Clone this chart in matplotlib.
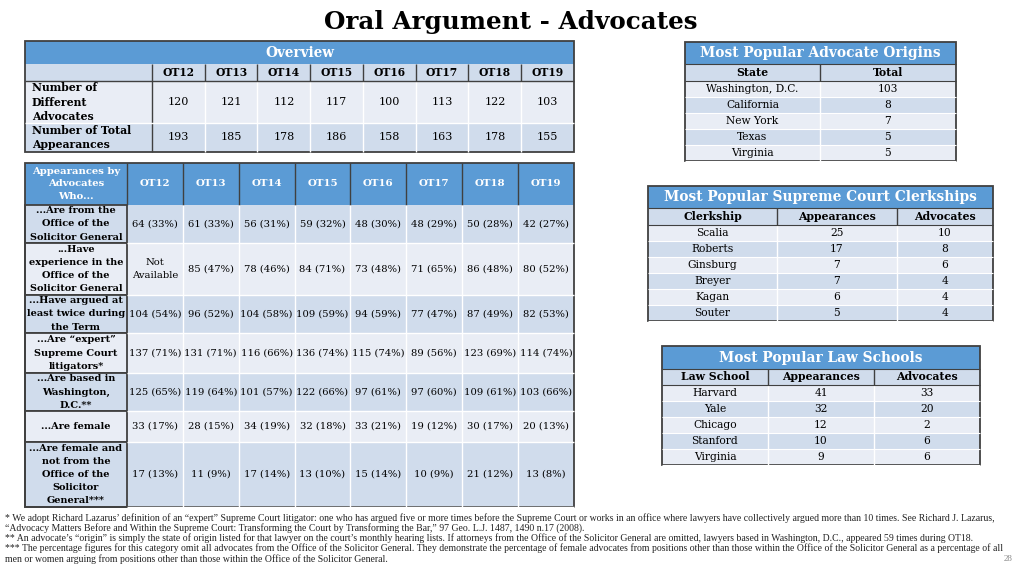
import matplotlib.pyplot as plt
from matplotlib.patches import Rectangle

# ---- data ----
terms = ["OT12", "OT13", "OT14", "OT15", "OT16", "OT17", "OT18", "OT19"]

overview_labels = ["Number of\nDifferent\nAdvocates", "Number of Total\nAppearances"]
different_advocates = [120, 121, 112, 117, 100, 113, 122, 103]
total_appearances = [193, 185, 178, 186, 158, 163, 178, 155]

who_labels = ["...Are from the\nOffice of the\nSolicitor General",
              "...Have\nexperience in the\nOffice of the\nSolicitor General",
              "...Have argued at\nleast twice during\nthe Term",
              "...Are \u201cexpert\u201d\nSupreme Court\nlitigators*",
              "...Are based in\nWashington,\nD.C.**",
              "...Are female",
              "...Are female and\nnot from the\nOffice of the\nSolicitor\nGeneral***"]
osg_n = [64, 61, 56, 59, 48, 48, 50, 42]
osg_pct = [33, 33, 31, 32, 30, 29, 28, 27]
osg_exp_n = [None, 85, 78, 84, 73, 71, 86, 80]
osg_exp_pct = [None, 47, 46, 71, 48, 65, 48, 52]
twice_n = [104, 96, 104, 109, 94, 77, 87, 82]
twice_pct = [54, 52, 58, 59, 59, 47, 49, 53]
expert_n = [137, 131, 116, 136, 115, 89, 123, 114]
expert_pct = [71, 71, 66, 74, 74, 56, 69, 74]
dc_n = [125, 119, 101, 122, 97, 97, 109, 103]
dc_pct = [65, 64, 57, 66, 61, 60, 61, 66]
female_n = [33, 28, 34, 32, 33, 19, 30, 20]
female_pct = [17, 15, 19, 18, 21, 12, 17, 13]
female_nonosg_n = [17, 11, 17, 13, 15, 10, 21, 13]
female_nonosg_pct = [13, 9, 14, 10, 14, 9, 12, 8]

origin_states = ["Washington, D.C.", "California", "New York", "Texas", "Virginia"]
origin_totals = [103, 8, 7, 5, 5]

clerkships = ["Scalia", "Roberts", "Ginsburg", "Breyer", "Kagan", "Souter"]
clerk_appearances = [25, 17, 7, 7, 6, 5]
clerk_advocates = [10, 8, 6, 4, 4, 4]

law_schools = ["Harvard", "Yale", "Chicago", "Stanford", "Virginia"]
school_appearances = [41, 32, 12, 10, 9]
school_advocates = [33, 20, 2, 6, 6]

footnotes = [
    "* We adopt Richard Lazarus\u2019 definition of an \u201cexpert\u201d Supreme Court litigator: one who has argued five or more times before the Supreme Court or works in an office where lawyers have collectively argued more than 10 times. See Richard J. Lazarus,",
    "\u201cAdvocacy Matters Before and Within the Supreme Court: Transforming the Court by Transforming the Bar,\u201d 97 Geo. L.J. 1487, 1490 n.17 (2008).",
    "** An advocate\u2019s \u201corigin\u201d is simply the state of origin listed for that lawyer on the court\u2019s monthly hearing lists. If attorneys from the Office of the Solicitor General are omitted, lawyers based in Washington, D.C., appeared 59 times during OT18.",
    "*** The percentage figures for this category omit all advocates from the Office of the Solicitor General. They demonstrate the percentage of female advocates from positions other than those within the Office of the Solicitor General as a percentage of all",
    "men or women arguing from positions other than those within the Office of the Solicitor General.",
]

# ---- styles ----
BLUE = "#5B9BD5"
MID = "#D0DCEC"
LIGHT = "#E9EDF5"
DARK = "#404040"
SERIF = "DejaVu Serif"
FS = 6.9

fig = plt.figure(figsize=(10.2, 5.73), dpi=100)
ax = fig.add_axes([0, 0, 1, 1])
ax.set_xlim(0, 1020)
ax.set_ylim(573, 0)
ax.axis("off")


def box(x0, x1, y0, y1, color, edge="none", lw=0):
    ax.add_patch(Rectangle((x0, y0), x1 - x0, y1 - y0, facecolor=color,
                           edgecolor=edge, linewidth=lw))


def vline(x, y0, y1, color, lw=1.0):
    ax.plot([x, x], [y0, y1], color=color, lw=lw, solid_capstyle="butt")


def hline(y, x0, x1, color, lw=1.0):
    ax.plot([x0, x1], [y, y], color=color, lw=lw, solid_capstyle="butt")


def txt(x, y, s, ha="center", bold=False, color="black", size=FS, ls=1.35):
    ax.text(x, y, s, ha=ha, va="center", fontsize=size, family=SERIF,
            fontweight="bold" if bold else "normal", color=color,
            linespacing=ls)


def fmt(n, p):
    if n is None:
        return "Not\nAvailable"
    return f"{n} ({p}%)"


# title
ax.text(511, 22, "Oral Argument - Advocates", ha="center", va="center",
        fontsize=17.7, family=SERIF, fontweight="bold")

# ---- Overview table ----
ox0, ox1, olab = 25, 574, 152
ocw = (ox1 - olab) / len(terms)
box(ox0, ox1, 41, 64, BLUE)
txt((ox0 + ox1) / 2, 53, "Overview", bold=True, color="white", size=9.8)
box(ox0, ox1, 64, 81, MID)
orows = [(81, 123), (123, 152)]
for (y0, y1), c in zip(orows, [LIGHT, MID]):
    box(ox0, ox1, y0, y1, c)
for i, t in enumerate(terms):
    txt(olab + ocw * (i + 0.5), 72.5, t, bold=True, size=7.7)
    if i > 0:
        vline(olab + ocw * i, 64, 81, DARK, 1.0)
        vline(olab + ocw * i, 81, 152, "white", 1.0)
vline(olab, 64, 152, DARK, 1.0)
hline(81, ox0, ox1, DARK, 1.0)
hline(123, ox0, ox1, "white", 1.0)
for r, (vals, lab) in enumerate(zip([different_advocates, total_appearances], overview_labels)):
    yc = sum(orows[r]) / 2
    txt(ox0 + 7, yc, lab, ha="left", bold=True, size=7.8, ls=1.4)
    for i, v in enumerate(vals):
        txt(olab + ocw * (i + 0.5), yc, str(v), size=8.0)
box(ox0, ox1, 41, 152, "none", DARK, 1.3)

# ---- Appearances table ----
ax0, ax1, alab = 25, 574, 127
acw = (ax1 - alab) / len(terms)
arows = [(205, 243), (243, 295), (295, 333), (333, 373), (373, 411), (411, 442), (442, 507)]
box(ax0, ax1, 163, 205, BLUE)
txt((ax0 + alab) / 2, 184, "Appearances by\nAdvocates\nWho...", bold=True, color="white",
    size=7.2, ls=1.55)
for i, t in enumerate(terms):
    txt(alab + acw * (i + 0.5), 184, t, bold=True, color="white", size=7.4)
    vline(alab + acw * i, 163, 205, DARK, 1.0)
series = [(osg_n, osg_pct), (osg_exp_n, osg_exp_pct), (twice_n, twice_pct),
          (expert_n, expert_pct), (dc_n, dc_pct), (female_n, female_pct),
          (female_nonosg_n, female_nonosg_pct)]
for r, ((y0, y1), lab, (ns, ps)) in enumerate(zip(arows, who_labels, series)):
    c = MID if r % 2 == 0 else LIGHT
    box(ax0, ax1, y0, y1, c)
    yc = (y0 + y1) / 2
    for i in range(1, len(terms)):
        vline(alab + acw * i, y0, y1, "white", 1.0)
    hline(y1, alab, ax1, "white", 1.0)
    box(ax0, alab, y0, y1, "none", DARK, 1.3)
    txt((ax0 + alab) / 2, yc, lab, bold=True, size=7.0, ls=1.6)
    for i, (n, p) in enumerate(zip(ns, ps)):
        txt(alab + acw * (i + 0.5), yc, fmt(n, p), size=7.2, ls=1.55)
box(ax0, ax1, 163, 507, "none", DARK, 1.3)


# ---- small tables ----
def small_table(x0, x1, cols, y_head, y_col, y_body, title, headers, columns):
    box(x0, x1, y_head, y_col, BLUE)
    txt((x0 + x1) / 2, (y_head + y_col) / 2 + 0.5, title, bold=True, color="white", size=9.9)
    box(x0, x1, y_col, y_body, MID)
    nrows = len(columns[0])
    rh = 16.0
    for r in range(nrows):
        y0 = y_body + r * rh
        box(x0, x1, y0, y0 + rh, LIGHT if r % 2 == 0 else MID)
        hline(y0 + rh, x0, x1, "white", 0.8)
    y_end = y_body + nrows * rh
    edges = [x0] + cols + [x1]
    for j, h in enumerate(headers):
        xc = (edges[j] + edges[j + 1]) / 2
        txt(xc, (y_col + y_body) / 2, h, bold=True, size=7.8)
        for r, v in enumerate(columns[j]):
            txt(xc, y_body + (r + 0.5) * rh, str(v), size=7.7)
    for xc in cols:
        vline(xc, y_col, y_body, DARK, 1.0)
        vline(xc, y_body, y_end, "white", 1.0)
    hline(y_col, x0, x1, DARK, 0.8)
    hline(y_body, x0, x1, DARK, 0.8)
    box(x0, x1, y_head, y_end, "none", DARK, 1.3)


small_table(685, 956, [820], 42, 64, 80.5, "Most Popular Advocate Origins",
            ["State", "Total"], [origin_states, origin_totals])
small_table(648, 993, [777, 897], 186, 208, 224.5, "Most Popular Supreme Court Clerkships",
            ["Clerkship", "Appearances", "Advocates"],
            [clerkships, clerk_appearances, clerk_advocates])
small_table(662, 980, [768, 874], 346, 369, 385, "Most Popular Law Schools",
            ["Law School", "Appearances", "Advocates"],
            [law_schools, school_appearances, school_advocates])

# ---- footnotes ----
for y, line in zip([518, 528, 538, 548, 559], footnotes):
    ax.text(5, y, line, ha="left", va="center", fontsize=7.0,
            family="Liberation Serif", color="#222222")
ax.text(1008, 559, "28", ha="center", va="center", fontsize=6.5,
        family="Liberation Serif", color="#888888")

fig.savefig("out.png", dpi=100)
